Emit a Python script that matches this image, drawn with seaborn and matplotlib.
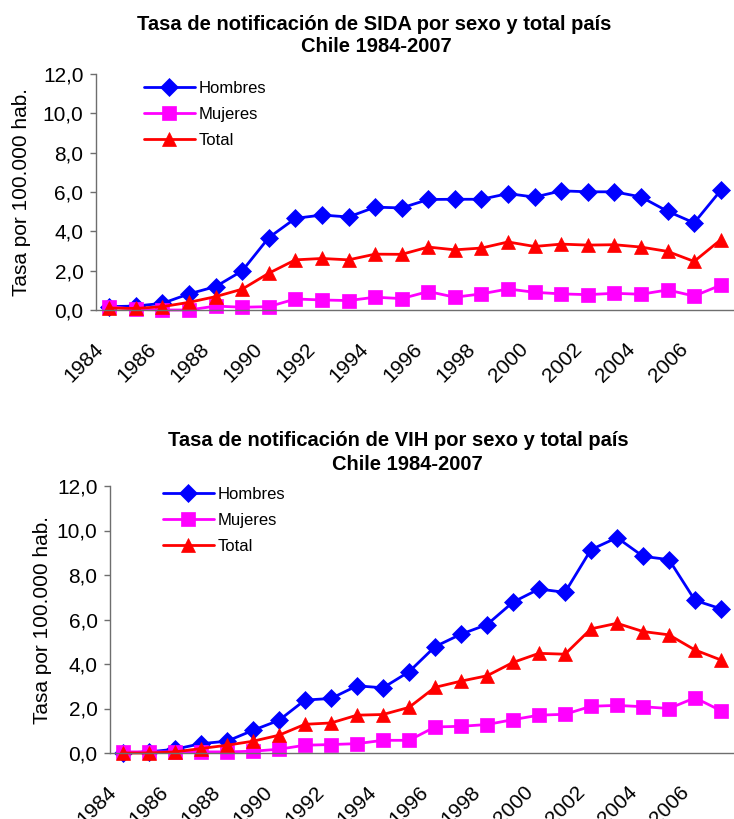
import matplotlib
matplotlib.use("Agg")
import matplotlib.pyplot as plt
import matplotlib.transforms as mtransforms
import seaborn as sns
import pandas as pd
from matplotlib.ticker import FixedLocator, FixedFormatter

years = list(range(1984, 2008))

sida_hombres = [0.17, 0.2, 0.34, 0.82, 1.19, 1.99, 3.68, 4.66, 4.83, 4.73, 5.23, 5.19,
                5.62, 5.63, 5.63, 5.92, 5.74, 6.06, 6.01, 6.01, 5.75, 5.02, 4.43, 6.08]
sida_mujeres = [0.17, 0.03, 0.0, 0.0, 0.2, 0.14, 0.17, 0.56, 0.51, 0.48, 0.65, 0.58,
                0.94, 0.65, 0.82, 1.07, 0.9, 0.82, 0.78, 0.85, 0.8, 1.02, 0.71, 1.26]
sida_total = [0.1, 0.08, 0.17, 0.39, 0.68, 1.06, 1.87, 2.55, 2.62, 2.55, 2.84, 2.83,
              3.2, 3.06, 3.15, 3.46, 3.23, 3.35, 3.3, 3.32, 3.2, 2.98, 2.47, 3.57]

vih_hombres = [0.0, 0.05, 0.17, 0.42, 0.53, 1.02, 1.47, 2.38, 2.45, 3.02, 2.93, 3.65,
               4.78, 5.34, 5.77, 6.78, 7.37, 7.22, 9.14, 9.68, 8.84, 8.69, 6.86, 6.48]
vih_mujeres = [0.05, 0.05, 0.05, 0.05, 0.05, 0.08, 0.17, 0.35, 0.38, 0.42, 0.57, 0.57,
               1.17, 1.2, 1.28, 1.5, 1.7, 1.74, 2.1, 2.14, 2.08, 2.0, 2.48, 1.9]
vih_total = [0.0, 0.0, 0.05, 0.2, 0.35, 0.53, 0.8, 1.29, 1.35, 1.7, 1.73, 2.05,
             2.95, 3.23, 3.47, 4.07, 4.48, 4.44, 5.58, 5.83, 5.46, 5.31, 4.63, 4.18]

series_names = ["Hombres", "Mujeres", "Total"]
series_colors = {"Hombres": "#0000FF", "Mujeres": "#FF00FF", "Total": "#FF0000"}
series_markers = {"Hombres": "D", "Mujeres": "s", "Total": "^"}

titles = [("Tasa de notificación de SIDA por sexo y total país", "Chile 1984-2007"),
          ("Tasa de notificación de VIH por sexo y total país", "Chile 1984-2007")]
ylabel = "Tasa por 100.000 hab."
ytick_vals = [0, 2, 4, 6, 8, 10, 12]
ytick_labels = ["0,0", "2,0", "4,0", "6,0", "8,0", "10,0", "12,0"]
xtick_years = list(range(1984, 2008, 2))

sns.set_theme(style="white")
plt.rcParams["font.family"] = ["Liberation Sans", "DejaVu Sans"]
plt.rcParams["text.color"] = "black"
plt.rcParams["xtick.color"] = "black"
plt.rcParams["ytick.color"] = "black"
plt.rcParams["axes.labelcolor"] = "black"

W, H = 734, 819
fig = plt.figure(figsize=(W / 100, H / 100), dpi=100)

def make_df(h, m, t):
    rows = []
    for name, vals in zip(series_names, [h, m, t]):
        for y, v in zip(years, vals):
            rows.append({"year": y, "serie": name, "valor": v})
    return pd.DataFrame(rows)

def axes_px(left, top, right, bottom):
    return fig.add_axes([left / W, 1 - bottom / H, (right - left) / W, (bottom - top) / H])

configs = [
    dict(box=(96, 74, 734, 310), data=(sida_hombres, sida_mujeres, sida_total),
         t1=(374, 24), t2=(376, 47), ylab_x=22, legend_px=(144, 81)),
    dict(box=(110, 486, 734, 753), data=(vih_hombres, vih_mujeres, vih_total),
         t1=(398, 440), t2=(407, 465), ylab_x=43, legend_px=(163, 487)),
]

AX_COLOR = "#6e6e6e"
label_offset = mtransforms.ScaledTranslation(-16 / 100, 0, fig.dpi_scale_trans)

for cfg, (tl1, tl2) in zip(configs, titles):
    L, T, R, B = cfg["box"]
    ax = axes_px(L, T, R, B)
    df = make_df(*cfg["data"])
    sns.lineplot(data=df, x="year", y="valor", hue="serie", style="serie",
                 hue_order=series_names, style_order=series_names,
                 palette=series_colors, markers=series_markers, dashes=False,
                 linewidth=2.0, markersize=9.5, markeredgewidth=0.5, ax=ax)
    for ln in ax.lines:
        ln.set_markeredgecolor(ln.get_color())
        ln.set_clip_on(False)
    ax.set_xlim(1983.5, 2007.5)
    ax.set_ylim(0, 12)
    ax.yaxis.set_major_locator(FixedLocator(ytick_vals))
    ax.yaxis.set_major_formatter(FixedFormatter(ytick_labels))
    ax.xaxis.set_major_locator(FixedLocator(xtick_years))
    ax.xaxis.set_major_formatter(FixedFormatter([str(y) for y in xtick_years]))
    ax.xaxis.set_minor_locator(FixedLocator([y - 0.5 for y in years] + [2007.5]))
    ax.tick_params(axis="x", which="major", length=0, labelsize=15, pad=21)
    ax.tick_params(axis="x", which="minor", length=4, width=1, color=AX_COLOR, direction="out")
    ax.tick_params(axis="y", which="major", length=4, width=1, color=AX_COLOR,
                   direction="out", labelsize=15, pad=5, left=True)
    for lbl in ax.get_xticklabels():
        lbl.set_rotation(45)
        lbl.set_ha("right")
        lbl.set_va("top")
        lbl.set_rotation_mode("anchor")
        lbl.set_transform(lbl.get_transform() + label_offset)
    for s in ["top", "right"]:
        ax.spines[s].set_visible(False)
    for s in ["left", "bottom"]:
        ax.spines[s].set_color(AX_COLOR)
        ax.spines[s].set_linewidth(1)
    ax.set_xlabel("")
    ax.set_ylabel(ylabel, fontsize=15)
    ax.yaxis.set_label_coords((cfg["ylab_x"] - L) / (R - L), 0.5)
    ax.yaxis.label.set_va("center")
    lx, ly = cfg["legend_px"]
    ax.legend(loc="upper left", bbox_to_anchor=((lx - L) / (R - L), (B - ly) / (B - T)),
              frameon=False, fontsize=12, handlelength=3.05, handletextpad=0.25,
              labelspacing=0.66, borderaxespad=0, borderpad=0)
    fig.text(cfg["t1"][0] / W, 1 - cfg["t1"][1] / H, tl1, ha="center", va="center",
             fontsize=14.5, fontweight="bold")
    fig.text(cfg["t2"][0] / W, 1 - cfg["t2"][1] / H, tl2, ha="center", va="center",
             fontsize=14.5, fontweight="bold")

fig.savefig("out.png", dpi=100)
